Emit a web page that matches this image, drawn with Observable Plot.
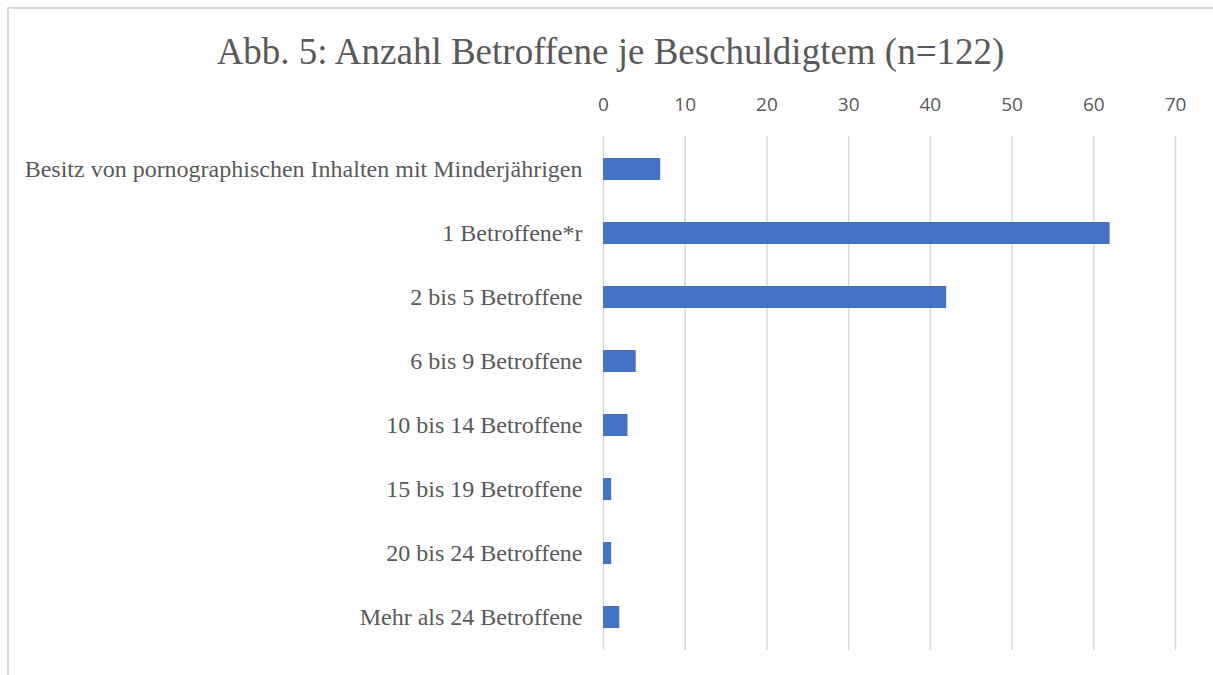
<!DOCTYPE html>
<html>
<head>
<meta charset="utf-8">
<script src="https://cdn.jsdelivr.net/npm/d3@7"></script>
<script src="https://cdn.jsdelivr.net/npm/@observablehq/plot@0.6"></script>
<style>
  html, body { margin: 0; padding: 0; background: #fff; }
  #wrap { position: relative; width: 1213px; height: 675px; overflow: hidden; }
  #frame { position: absolute; left: 7px; top: 7px; width: 1220px; height: 700px;
           border-top: 2px solid #d9d9d9; border-left: 2px solid #d9d9d9; box-sizing: border-box; }
  #title { position: absolute; left: 0; top: 30px; width: 1221px; text-align: center;
           font-family: "Liberation Serif", "Times New Roman", serif; font-size: 37px;
           color: #595959; line-height: 44px; }
  #chart { position: absolute; left: 0; top: 0; }
</style>
</head>
<body>
<div id="wrap">
  <div id="frame"></div>
  <div id="chart"></div>
  <div id="title">Abb. 5: Anzahl Betroffene je Beschuldigtem (n=122)</div>
</div>
<script>
const categories = [
  "Besitz von pornographischen Inhalten mit Minderjährigen",
  "1 Betroffene*r",
  "2 bis 5 Betroffene",
  "6 bis 9 Betroffene",
  "10 bis 14 Betroffene",
  "15 bis 19 Betroffene",
  "20 bis 24 Betroffene",
  "Mehr als 24 Betroffene"
];
const counts = [7, 62, 42, 4, 3, 1, 1, 2];
const xTicks = [0, 10, 20, 30, 40, 50, 60, 70];

const data = categories.map((c, i) => ({category: c, count: counts[i]}));

const chart = Plot.plot({
  width: 1213,
  height: 675,
  marginLeft: 603,
  marginRight: 38,
  marginTop: 136,
  marginBottom: 25,
  style: {background: "transparent", overflow: "visible"},
  x: {domain: [0, 70], ticks: xTicks, axis: null},
  y: {domain: categories, padding: 0, axis: null},
  marks: [
    Plot.ruleX(xTicks, {stroke: "#d9d9d9", strokeWidth: 1.5}),
    Plot.barX(data, {x: "count", y: "category", fill: "#4472c4", insetTop: 21, insetBottom: 21}),
    Plot.axisX({anchor: "top", ticks: xTicks, tickSize: 0, tickPadding: 26, label: null,
      fontSize: 19, fontFamily: "'Open Sans', sans-serif", color: "#595959"}),
    Plot.axisY({anchor: "left", tickSize: 0, tickPadding: 21, label: null,
      fontSize: 24, fontFamily: "'Liberation Serif', 'Times New Roman', serif", color: "#595959"})
  ]
});
document.getElementById("chart").appendChild(chart);
</script>
</body>
</html>
